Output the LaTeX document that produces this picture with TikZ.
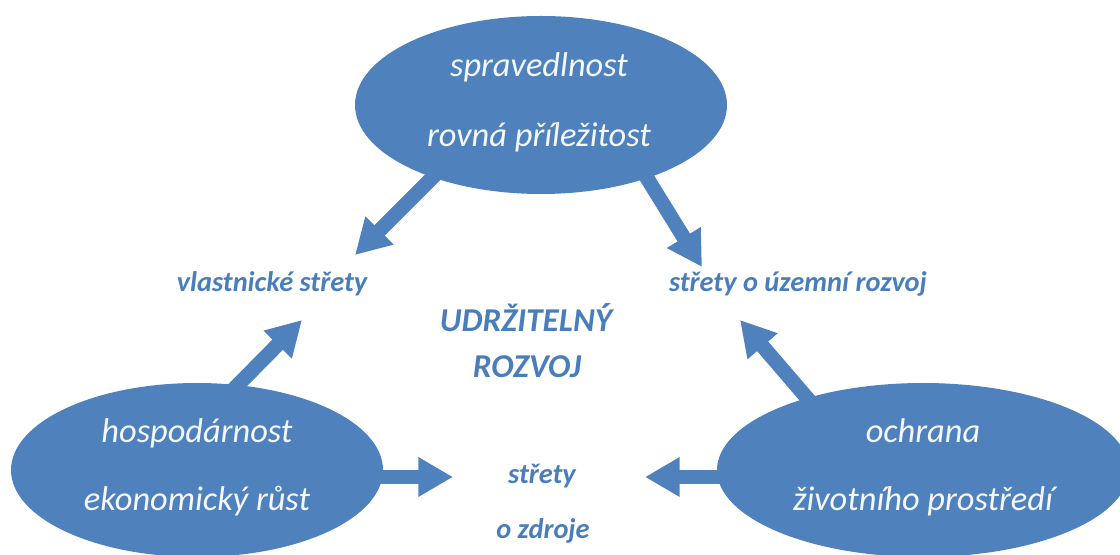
\documentclass[tikz,border=0pt]{standalone}
\usepackage{fontspec}
\setmainfont{Carlito}
\usetikzlibrary{shapes.geometric,arrows.meta,calc}
\definecolor{blob}{HTML}{4F81BD}
\definecolor{blobtext}{HTML}{F4F7FB}
\definecolor{labtext}{HTML}{4A7EBB}
\begin{document}
\begin{tikzpicture}[x=0.75pt,y=-0.75pt,
  blobshape/.style={ellipse,fill=blob,draw=none,inner sep=0pt},
  intext/.style={anchor=base,text=blobtext,font=\fontsize{25.8}{30}\selectfont\itshape,inner sep=0pt},
  lab/.style={anchor=base,text=labtext,font=\fontsize{21.3}{25}\selectfont\bfseries\itshape,inner sep=0pt},
  title/.style={anchor=base,text=labtext,font=\fontsize{25}{30}\selectfont\bfseries\itshape,inner sep=0pt},
  arr/.style={draw=blob,line width=11pt,-{Triangle[length=26pt,width=28pt]}}]
\useasboundingbox (0,0) rectangle (1120,555);
\clip (0,0) rectangle (1120,555);
% ellipses
\node[blobshape,minimum width=279pt,minimum height=133.5pt] (top) at (541,105) {};
\node[blobshape,minimum width=279pt,minimum height=130.5pt] (econ) at (197,470) {};
\node[blobshape,minimum width=309pt,minimum height=130.5pt] (env) at (923,470) {};
% texts in ellipses
\node[intext] (t1) at (539,77) {spravedlnost};
\node[intext] (t2) at (539,147) {rovná příležitost};
\node[intext] (e1) at (197,442) {hospodárnost};
\node[intext] (e2) at (197,510) {ekonomický růst};
\node[intext] (v1) at (923,442) {ochrana};
\node[intext] (v2) at (923,510) {životního prostředí};
% labels
\node[lab] (own) at (272,292) {vlastnické střety};
\node[lab] (terr) at (798,292) {střety o územní rozvoj};
\node[title] (ud1) at (526,332) {UDRŽITELNÝ};
\node[title] (ud2) at (527,378) {ROZVOJ};
\node[lab] (res1) at (542,483) {střety};
\node[lab] (res2) at (543,538) {o zdroje};
% arrow tips
\coordinate (tA) at (355,255);
\coordinate (tB) at (702,267);
\coordinate (tC) at (302,320);
\coordinate (tD) at (740,320);
\coordinate (tE) at (453,477);
\coordinate (tF) at (645,477);
% arrows
\draw[arr] ($(top.center)+(-101,65)$) -- (tA);
\draw[arr] ($(top.center)+(93,52)$) -- (tB);
\draw[arr] ($(econ.center)+(28,-72)$) -- (tC);
\draw[arr] ($(econ.center)+(173,7)$) -- (tE);
\draw[arr] ($(env.center)+(-97,-50)$) -- (tD);
\draw[arr] ($(env.center)+(-193,7)$) -- (tF);
\end{tikzpicture}
\end{document}
